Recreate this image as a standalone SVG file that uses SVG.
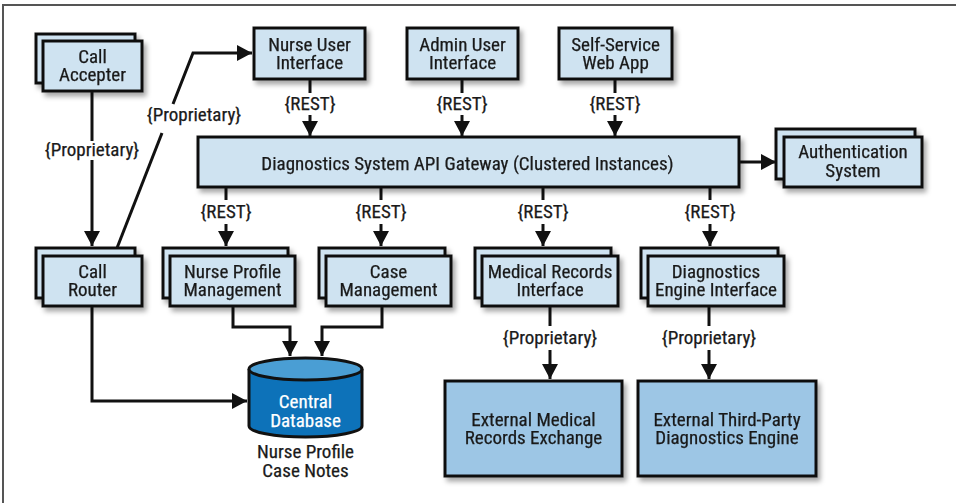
<svg xmlns="http://www.w3.org/2000/svg" width="956" height="503" viewBox="0 0 956 503">
<defs>
<style>
text{font-family:"Liberation Sans Narrow","Roboto Condensed","DejaVu Sans Condensed",Roboto,sans-serif;font-size:19px;font-weight:normal;fill:#1a1a1a;stroke:#1a1a1a;stroke-width:0.25;text-anchor:middle}
.wt{fill:#fff;stroke:#fff}
.box{fill:#cfe3f1;stroke:#111;stroke-width:3}
.ext{fill:#9dc6e5;stroke:#111;stroke-width:3}
.ln{fill:none;stroke:#111;stroke-width:3}
</style>
<filter id="sh" x="-10%" y="-10%" width="130%" height="140%">
<feDropShadow dx="3" dy="4" stdDeviation="2.5" flood-color="#000" flood-opacity="0.35"/>
</filter>
<marker id="ah" markerUnits="userSpaceOnUse" markerWidth="16" markerHeight="16" viewBox="0 0 16 16" refX="15" refY="8" orient="auto">
<path d="M0,0 L15,8 L0,16 Z" fill="#111"/>
</marker>
</defs>
<rect width="956" height="503" fill="#fff"/>
<path d="M3,503 V5 H956" fill="none" stroke="#555" stroke-width="2"/>

<g id="connectors">
<path class="ln" d="M92,91 V141"/>
<path class="ln" d="M92,160 V246" marker-end="url(#ah)"/>
<path class="ln" d="M117,248 L162,133"/>
<path class="ln" d="M173,104 L193,53 H252" marker-end="url(#ah)"/>
<path class="ln" d="M310,79 V93"/><path class="ln" d="M310,115 V136" marker-end="url(#ah)"/>
<path class="ln" d="M462,79 V93"/><path class="ln" d="M462,115 V136" marker-end="url(#ah)"/>
<path class="ln" d="M615,79 V93"/><path class="ln" d="M615,115 V136" marker-end="url(#ah)"/>
<path class="ln" d="M739,162 H776" marker-end="url(#ah)"/>
<path class="ln" d="M226,187 V200"/><path class="ln" d="M226,224 V246" marker-end="url(#ah)"/>
<path class="ln" d="M381,187 V200"/><path class="ln" d="M381,224 V246" marker-end="url(#ah)"/>
<path class="ln" d="M543,187 V200"/><path class="ln" d="M543,224 V246" marker-end="url(#ah)"/>
<path class="ln" d="M710,187 V200"/><path class="ln" d="M710,224 V246" marker-end="url(#ah)"/>
<path class="ln" d="M233,306 V327 H290 V356" marker-end="url(#ah)"/>
<path class="ln" d="M382,306 V327 H322 V356" marker-end="url(#ah)"/>
<path class="ln" d="M92,306 V401 H247" marker-end="url(#ah)"/>
<path class="ln" d="M550,306 V326"/><path class="ln" d="M550,350 V379" marker-end="url(#ah)"/>
<path class="ln" d="M709,306 V326"/><path class="ln" d="M709,350 V379" marker-end="url(#ah)"/>
<text x="92" y="156">{Proprietary}</text>
<text x="194" y="121">{Proprietary}</text>
<text x="310" y="110">{REST}</text>
<text x="462" y="110">{REST}</text>
<text x="615" y="110">{REST}</text>
<text x="226" y="218">{REST}</text>
<text x="381" y="218">{REST}</text>
<text x="543" y="218">{REST}</text>
<text x="710" y="218">{REST}</text>
<text x="550" y="344">{Proprietary}</text>
<text x="709" y="344">{Proprietary}</text>
</g>

<g id="call-accepter" filter="url(#sh)">
<rect class="box" x="36" y="34" width="99" height="49"/>
<rect class="box" x="43" y="41" width="99" height="50"/>
<text x="92.5" y="63">Call<tspan x="92.5" dy="18">Accepter</tspan></text>
</g>
<g id="nurse-ui" filter="url(#sh)">
<rect class="box" x="254" y="28" width="111" height="51"/>
<text x="309.5" y="51">Nurse User<tspan x="309.5" dy="18">Interface</tspan></text>
</g>
<g id="admin-ui" filter="url(#sh)">
<rect class="box" x="407" y="28" width="111" height="51"/>
<text x="462.5" y="51">Admin User<tspan x="462.5" dy="18">Interface</tspan></text>
</g>
<g id="self-service" filter="url(#sh)">
<rect class="box" x="559" y="28" width="113" height="51"/>
<text x="615.5" y="51">Self-Service<tspan x="615.5" dy="18">Web App</tspan></text>
</g>
<g id="gateway" filter="url(#sh)">
<rect class="box" x="198" y="137" width="541" height="50"/>
<text x="467.5" y="170">Diagnostics System API Gateway (Clustered Instances)</text>
</g>
<g id="auth" filter="url(#sh)">
<rect class="box" x="776" y="129" width="139" height="50"/>
<rect class="box" x="784" y="137" width="138" height="50"/>
<text x="853" y="158">Authentication<tspan x="853" dy="19">System</tspan></text>
</g>
<g id="call-router" filter="url(#sh)">
<rect class="box" x="36" y="248" width="99" height="50"/>
<rect class="box" x="43" y="256" width="99" height="50"/>
<text x="92.5" y="278">Call<tspan x="92.5" dy="18">Router</tspan></text>
</g>
<g id="nurse-profile" filter="url(#sh)">
<rect class="box" x="163" y="248" width="125" height="50"/>
<rect class="box" x="170" y="256" width="125" height="50"/>
<text x="232.5" y="278">Nurse Profile<tspan x="232.5" dy="18">Management</tspan></text>
</g>
<g id="case-mgmt" filter="url(#sh)">
<rect class="box" x="319" y="248" width="126" height="50"/>
<rect class="box" x="326" y="256" width="125" height="50"/>
<text x="388.5" y="278">Case<tspan x="388.5" dy="18">Management</tspan></text>
</g>
<g id="medical-records" filter="url(#sh)">
<rect class="box" x="475" y="248" width="136" height="50"/>
<rect class="box" x="482" y="256" width="136" height="50"/>
<text x="550" y="278">Medical Records<tspan x="550" dy="18">Interface</tspan></text>
</g>
<g id="diag-engine" filter="url(#sh)">
<rect class="box" x="641" y="248" width="137" height="50"/>
<rect class="box" x="648" y="256" width="136" height="50"/>
<text x="716" y="278">Diagnostics<tspan x="716" dy="18">Engine Interface</tspan></text>
</g>
<g id="database">
<path d="M249,369 V426 A56.5,11 0 0 0 362,426 V369" fill="#0d72b9" stroke="#111" stroke-width="3"/>
<ellipse cx="305.5" cy="369" rx="56.5" ry="11" fill="#4a9ed4" stroke="#111" stroke-width="3"/>
<text class="wt" x="305.5" y="408">Central<tspan x="305.5" dy="19">Database</tspan></text>
<text x="305.5" y="458">Nurse Profile<tspan x="305.5" dy="19">Case Notes</tspan></text>
</g>
<g id="ext-medical" filter="url(#sh)">
<rect class="ext" x="445" y="381" width="177" height="95"/>
<text x="533.5" y="426">External Medical<tspan x="533.5" dy="18">Records Exchange</tspan></text>
</g>
<g id="ext-diag" filter="url(#sh)">
<rect class="ext" x="638" y="381" width="178" height="95"/>
<text x="727" y="426">External Third-Party<tspan x="727" dy="18">Diagnostics Engine</tspan></text>
</g>
</svg>
